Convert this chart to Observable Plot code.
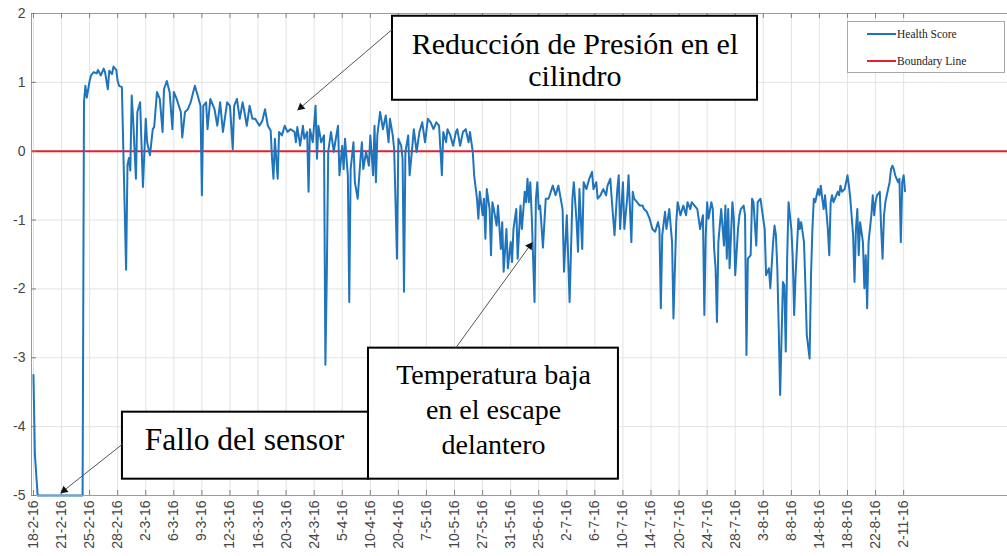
<!DOCTYPE html>
<html><head><meta charset="utf-8">
<script src="https://cdn.jsdelivr.net/npm/d3@7"></script>
<script src="https://cdn.jsdelivr.net/npm/@observablehq/plot@0.6"></script>
<style>
body{margin:0;background:#fff;}
#wrap{position:relative;width:1007px;height:556px;overflow:hidden;background:#fff;}
#legend{position:absolute;left:847px;top:21px;width:158px;height:52px;border:1px solid #a8a8a8;background:#fff;box-sizing:border-box;font-family:"Liberation Serif",serif;font-size:11.5px;color:#222;}
.li{position:absolute;left:19px;height:14px;line-height:14px;display:flex;align-items:center;white-space:nowrap;}
.sw{display:inline-block;width:29px;height:2px;margin-right:1px;}
</style></head><body><div id="wrap"><div id="legend"></div></div>
<script>
// x-axis tick labels (one every 20 samples)
const dateLabels = ["18-2-16","21-2-16","25-2-16","28-2-16","2-3-16","6-3-16","9-3-16","12-3-16","16-3-16","20-3-16","24-3-16","5-4-16","10-4-16","20-4-16","7-5-16","10-5-16","27-5-16","31-5-16","25-6-16","2-7-16","6-7-16","10-7-16","14-7-16","20-7-16","24-7-16","28-7-16","3-8-16","8-8-16","14-8-16","18-8-16","22-8-16","2-11-16"];
const yTicks = [2, 1, 0, -1, -2, -3, -4, -5];
const boundaryValue = [0];
const seriesNames = ["Health Score", "Boundary Line"];

// [sample index, health score]
const healthScore = [
[0,-3.25],[1,-4.4],[3,-5],[35,-5],[36,0.72],[37,0.95],[38,0.78],[40,1.02],[41,1.1],[43,1.15],[45,1.13],[46,1.18],[48,1.1],[50,1.2],[51,1.15],[53,0.9],[54,1.17],[56,1.12],[57,1.23],[59,1.18],[60,1.02],[61,0.95],[63,0.93],[66,-1.72],[67,-0.2],[68,-0.1],[69,-0.28],[70,0.81],[71,0.47],[73,-0.4],[74,0.57],[76,0.71],[78,-0.52],[80,0.47],[81,0.13],[83,-0.06],[85,0.32],[86,0.35],[88,0.86],[90,0.76],[92,0.28],[93,0.9],[95,1.02],[97,0.86],[99,0.32],[100,0.86],[102,0.76],[105,0.57],[106,0.2],[108,0.57],[110,0.61],[112,0.71],[115,0.95],[117,0.81],[119,0.66],[120,-0.64],[121,0.66],
[123,0.71],[124,0.32],[126,0.76],[129,0.61],[131,0.37],[133,0.71],[135,0.28],[138,0.71],[140,0.66],[142,0.03],[143,0.66],[145,0.76],[147,0.47],[149,0.71],[150,0.61],[152,0.37],[154,0.66],[156,0.47],[158,0.47],[161,0.37],[163,0.44],[165,0.61],[167,0.37],[169,0.3],[170,-0.11],[171,-0.4],[172,0.18],[174,-0.4],[175,0.28],[177,0.23],[179,0.37],[181,0.28],[183,0.32],[186,0.28],[187,0.13],[188,0.35],[190,0.08],[192,0.37],[193,0.18],[195,0.28],[196,-0.59],[197,0.32],[199,0.13],[201,0.66],[202,-0.11],[203,0.37],[205,0.13],[207,0.23],[208,-3.1],[209,-1.8],[210,-0.01],[212,0.28],[214,-0.01],[215,0.13],[217,0.37],[218,-0.35],[220,0.08],[221,-0.26],[222,0.18],[224,-0.35],[225,-2.19],[226,-0.26],[228,0.13],[229,-0.45],[231,-0.69],[233,-0.11],[234,0.13],[235,-0.26],[237,-0.01],[239,-0.21],[240,0.23],
[242,-0.35],[243,0.37],[244,-0.45],[245,0.23],[247,0.57],[249,0.32],[251,0.52],[253,0.13],[254,0.47],[256,0.23],[257,0.03],[259,-1.56],[260,0.18],[262,0.08],[263,-0.11],[264,-2.04],[265,-0.01],[267,0.23],[268,-0.35],[270,0.08],[271,0.32],[273,-0.01],[275,0.28],[277,0.42],[279,0.13],[281,0.47],[283,0.42],[285,0.32],[287,0.42],[289,0.37],[291,-0.35],[292,0.28],[294,0.13],[295,0.32],[297,0.23],[299,0.08],[301,0.28],[302,0.32],[304,0.08],[306,0.28],[308,0.32],[310,0.13],[311,0.28],[313,-0.01],[314,-0.35],[316,-0.69],[317,-0.98],[318,-0.59],[320,-0.93],[321,-0.69],[322,-1.27],[323,-0.55],[325,-0.84],[326,-1.51],[327,-0.74],[328,-0.84],[330,-1.08],[331,-0.79],[333,-1.42],[334,-1.03],[335,-1.75],[337,-1.13],[338,-1.7],[340,-1.32],[341,-1.61],[342,-1.13],[344,-0.84],[345,-1.56],[346,-1.17],[347,-0.79],[348,-1.13],[350,-0.59],[351,-0.74],[352,-0.4],[353,-0.74],[354,-0.45],[355,-0.93],[357,-2.19],[358,-0.69],[359,-0.45],[360,-0.84],[361,-0.79],[363,-1.4],[365,-0.69],[367,-0.69],
[370,-0.5],[372,-0.64],[374,-0.5],[377,-0.84],[378,-1.75],[380,-0.93],[382,-2.19],[384,-0.69],[385,-0.45],[387,-1.03],[388,-1.46],[389,-0.55],[391,-1.42],[392,-0.45],[394,-0.55],[396,-0.4],[398,-0.3],[399,-0.55],[401,-0.45],[402,-0.69],[404,-0.64],[406,-0.55],[408,-0.64],[409,-0.5],[411,-0.4],[412,-0.69],[414,-1.22],[416,-0.55],[417,-0.35],[418,-1.13],[420,-0.45],[421,-1.13],[423,-0.69],[424,-0.35],[426,-1.32],[427,-0.59],[428,-0.69],[430,-0.74],[432,-0.79],[434,-0.79],[435,-0.84],[437,-0.88],[439,-0.98],[441,-1.13],[443,-1.17],[445,-1.03],[446,-1.13],[447,-2.28],[448,-1.22],[450,-0.88],[451,-1.13],[453,-0.84],[455,-1.32],[456,-2.43],[458,-1.03],[459,-0.74],[461,-0.93],[463,-0.79],[465,-0.93],[466,-0.74],[468,-0.84],[469,-0.74],[471,-0.79],[473,-0.84],[475,-1.13],[477,-0.93],[478,-2.38],[479,-1.22],[480,-0.74],[481,-0.98],[483,-0.74],[484,-0.84],[485,-1.42],[486,-1.7],[487,-2.48],[488,-1.32],[490,-0.84],
[492,-1.37],[493,-0.79],[494,-1.56],[495,-0.84],[496,-1.7],[498,-0.74],[499,-0.98],[500,-1.8],[502,-1.13],[503,-0.93],[504,-0.84],[506,-0.79],[507,-0.93],[508,-2.96],[509,-1.56],[511,-1.51],[512,-0.69],[513,-0.74],[515,-1.37],[516,-0.74],[518,-0.69],[519,-0.84],[521,-1.13],[522,-1.8],[524,-1.7],[525,-1.99],[527,-1.32],[528,-1.08],[529,-1.22],[530,-1.7],[531,-2.57],[532,-3.54],[534,-1.9],[535,-1.95],[536,-2.91],[537,-1.56],[538,-0.74],[540,-1.13],[541,-1.56],[542,-2.38],[543,-1.8],[545,-0.98],[546,-1.13],[547,-1.03],[549,-1.32],[550,-1.95],[551,-2.67],[553,-3.01],[554,-1.8],[555,-1.13],[556,-0.69],[557,-0.74],[559,-0.55],[560,-0.64],[561,-0.5],[562,-0.69],[563,-0.84],[564,-0.64],[566,-1.13],[567,-1.51],[568,-0.74],[569,-0.64],[570,-0.74],[572,-0.64],[573,-0.59],[574,-0.64],[575,-0.5],[576,-0.59],[578,-0.55],[579,-0.45],[580,-0.35],[581,-0.5],[582,-0.69],[584,-1.22],[585,-1.9],[586,-1.13],[587,-0.84],[588,-1.51],[589,-1.03],[591,-1.32],[592,-1.99],[593,-1.51],[594,-2.28],[595,-1.32],[597,-0.93],[598,-0.64],[599,-0.93],[600,-0.74],[601,-0.64],[603,-0.59],[604,-1.13],[605,-1.56],[606,-0.93],[607,-0.74],[608,-0.64],[610,-0.45],[611,-0.26],[612,-0.21],[613,-0.26],[614,-0.35],[616,-0.45],[617,-0.4],[618,-1.32],[619,-0.45],[620,-0.35],[621,-0.58]
];

// annotation texts
const noteTexts = ["Reducción de Presión en el\ncilindro", "Temperatura baja\nen el escape\ndelantero", "Fallo del sensor"];

// ---------- layout (not data) ----------
const W = 1007, H = 556;
const xDomain = [-1.4, 694];
const yDomain = [-5, 2];
const mL = 31, mR = 0, mT = 13, mB = 61;
const pxX = (xDomain[1] - xDomain[0]) / (W - mL - mR);   // data units per px (x)
const pxY = (yDomain[1] - yDomain[0]) / (H - mT - mB);   // data units per px (y)
const tickSamples = dateLabels.map((d, k) => k * 20);

const boxes = [
  {x1: 255.8, x2: 515.9, y1: 0.74, y2: 1.96},
  {x1: 238.7, x2: 416.8, y1: -4.763, y2: -2.86},
  {x1: 63.4, x2: 238.7, y1: -4.763, y2: -3.79}
];
const arrows = [
  {x1: 255.8, y1: 1.772, x2: 188.1, y2: 0.595, hx: 190.6, hy: 0.639, rot: 229.5},
  {x1: 300.7, y1: -2.861, x2: 355.5, y2: -1.322, hx: 353.6, hy: -1.377, rot: 36},
  {x1: 63.4, y1: -4.255, x2: 19.2, y2: -4.967, hx: 21.9, hy: -4.925, rot: 231.7}
];

const serif = "'Liberation Serif','Times New Roman',serif";
const gridColor = "#e3e3e3";
const axisColor = "#9c9c9c";

const plot = Plot.plot({
  width: W, height: H,
  marginLeft: mL, marginRight: mR, marginTop: mT, marginBottom: mB,
  x: {domain: xDomain, label: null},
  y: {domain: yDomain, label: null},
  style: {fontFamily: "'Liberation Sans', Arial, sans-serif", fontSize: "14px", background: "transparent", overflow: "visible"},
  marks: [
    Plot.ruleX(tickSamples, {stroke: gridColor, strokeWidth: 1}),
    Plot.ruleY(yTicks, {stroke: gridColor, strokeWidth: 1}),
    Plot.ruleY(boundaryValue, {stroke: "#e5222b", strokeWidth: 2}),
    Plot.line(healthScore, {x: d => d[0], y: d => d[1], stroke: "#1f74bb", strokeWidth: 2, strokeLinejoin: "round", curve: "linear"}),
    // box frame
    Plot.ruleX([xDomain[0]], {stroke: axisColor, strokeWidth: 1}),
    Plot.ruleY([yDomain[0], yDomain[1]], {stroke: axisColor, strokeWidth: 1}),
    // inward ticks
    Plot.ruleX(tickSamples, {y1: yDomain[0], y2: yDomain[0] + 5 * pxY, stroke: "#808080"}),
    Plot.ruleX(tickSamples, {y1: yDomain[1], y2: yDomain[1] - 5 * pxY, stroke: "#808080"}),
    Plot.ruleY(yTicks, {x1: xDomain[0], x2: xDomain[0] + 5 * pxX, stroke: "#808080"}),
    Plot.axisX(tickSamples, {tickFormat: s => dateLabels[Math.round(s / 20)], tickRotate: -90, tickSize: 0, tickPadding: 5, fontSize: 14, color: "#444", label: null}),
    Plot.axisY(yTicks, {tickFormat: d => String(d), tickSize: 0, tickPadding: 6, fontSize: 14, color: "#444", label: null}),
    // annotation boxes
    Plot.rect(boxes, {x1: "x1", x2: "x2", y1: "y1", y2: "y2", fill: "white", stroke: "black", strokeWidth: 2}),
    Plot.text([noteTexts[0]], {x: 385.8, y: (150 - 85) * pxY, text: d => d, fontSize: 30, fontFamily: serif, lineHeight: 1.067, lineAnchor: "bottom", textAnchor: "middle", fill: "black"}),
    Plot.text([noteTexts[1]], {x: 327.8, y: -(453 - 150) * pxY, text: d => d, fontSize: 28, fontFamily: serif, lineHeight: 1.25, lineAnchor: "bottom", textAnchor: "middle", fill: "black"}),
    Plot.text([noteTexts[2]], {x: 150.3, y: -(449 - 150) * pxY, text: d => d, fontSize: 31.5, fontFamily: serif, lineAnchor: "bottom", textAnchor: "middle", fill: "black"}),
    // arrows
    Plot.link(arrows, {x1: "x1", y1: "y1", x2: "x2", y2: "y2", stroke: "#555", strokeWidth: 1}),
    Plot.dot(arrows, {x: "hx", y: "hy", symbol: "triangle", r: 3, rotate: "rot", fill: "#111", stroke: "none"})
  ]
});
document.getElementById("wrap").prepend(plot);

// legend
const lg = document.getElementById("legend");
const swatchColors = ["#1f74bb", "#e5222b"];
const tops = [5, 32];
seriesNames.forEach((name, k) => {
  const row = document.createElement("div");
  row.className = "li";
  row.style.top = tops[k] + "px";
  const sw = document.createElement("span");
  sw.className = "sw";
  sw.style.background = swatchColors[k];
  row.appendChild(sw);
  row.appendChild(document.createTextNode(name));
  lg.appendChild(row);
});
</script>
</body></html>
